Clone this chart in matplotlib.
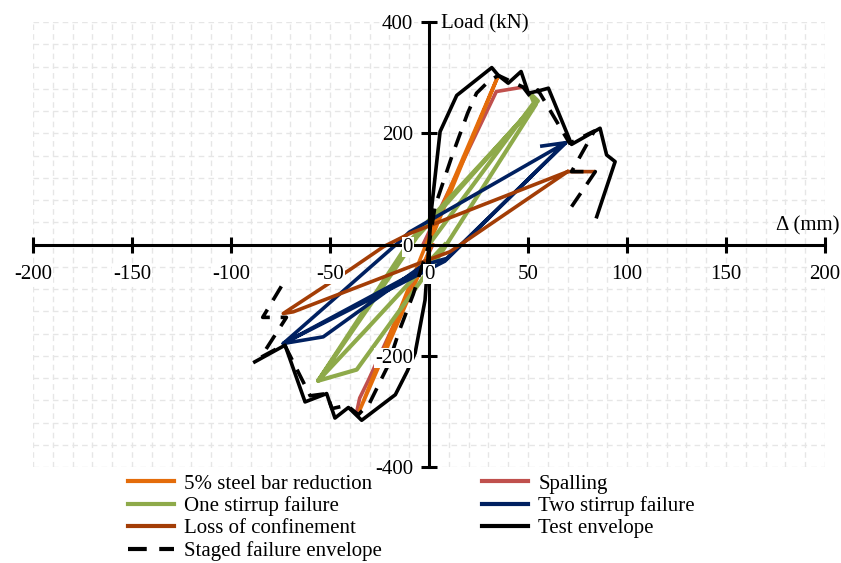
import matplotlib
matplotlib.use("Agg")
import matplotlib.pyplot as plt

# Damage-state hysteresis paths (displacement in mm, load in kN)
steel_x = [0, 35, -1.5, -35, 1.5]
steel_y = [0, 304, 0, -298, 0]

spall_x = [47.5, 34, -3, 2, -19, -30.6, -35, -36.5]
spall_y = [283, 275, 0, 0, -154, -244, -276, -301]

stir1_x = [0, 53, 51, 55, -6, -56, -36.5, 6, 54, -10, -56, -32, 8]
stir1_y = [0, 255, 272, 258, 14, -245, -225, -16, 252, 5, -245, -154, 0]

stir2_x = [57, 69, -10, -15, -73.6, -53.4, -3, 9, 69, 8, -73.6, -3]
stir2_y = [177, 183, 22, 5, -178, -166, -37, -25, 183, -30, -178, -43]

conf_x = [83, 70, -9.6, -23, -39, -73.6, -68.5, -3, 10.6, 70]
conf_y = [131, 131, 20, -4, -43, -124, -121, -31, -13, 131]

# test envelope
test_x = [84.7, 94, 89.7, 86.4, 72, 60.3, 55.2, 50.2, 46.5, 40, 35, 31.7, 14, 5.6, 1.4, 0,
          -2, -7, -11, -17, -34, -40.7, -47.5, -51.7, -62.6, -72.7, -88]
test_y = [50, 149, 161, 209, 180, 281, 276, 272, 311, 290, 304, 318, 268, 203, 68, 0,
          -100, -195, -228, -270, -316, -293, -312, -268, -283, -181, -211]

# staged failure envelope
stage_x = [72, 84, 72, 83.5, 71, 55, 52, 47.5, 35, 30, 24, 19.5, 11.5, 3, 0,
           -8, -15, -21, -30, -35.7, -41.5, -49, -51.7, -60, -73, -85, -72, -84, -72]
stage_y = [68, 131, 131, 204, 182, 278, 262, 283, 304, 293, 272, 236, 158, 68, 0,
           -90, -155, -220, -285, -306, -289, -295, -268, -272, -180, -203, -131, -131, -60]

x_ticks = list(range(-200, 201, 50))
y_ticks = list(range(-400, 401, 200))

plt.rcParams['font.family'] = ['Liberation Serif', 'DejaVu Serif']
plt.rcParams['font.size'] = 15
plt.rcParams['axes.unicode_minus'] = False

fig = plt.figure(figsize=(8.41, 5.63), dpi=100)
ax = fig.add_axes([33 / 841, 1 - 467 / 563, 792 / 841, 445 / 563])

# light dashed grid behind everything
for gx in range(-200, 201, 10):
    ax.axvline(gx, color='#e6e6e6', lw=1, ls=(0, (4, 3)), zorder=0)
for gy in range(-400, 401, 40):
    ax.axhline(gy, color='#e6e6e6', lw=1, ls=(0, (4, 3)), zorder=0)

lw = 2.6
l_spall, = ax.plot(spall_x, spall_y, color='#C0504D', lw=lw, label='Spalling')
l_steel, = ax.plot(steel_x, steel_y, color='#E46C0A', lw=lw, label='5% steel bar reduction')
l_stir1, = ax.plot(stir1_x, stir1_y, color='#8EAA4A', lw=lw + 0.4, label='One stirrup failure')
l_stir2, = ax.plot(stir2_x, stir2_y, color='#002060', lw=lw, label='Two stirrup failure')
l_conf, = ax.plot(conf_x, conf_y, color='#A33D06', lw=lw, label='Loss of confinement')
l_test, = ax.plot(test_x, test_y, color='black', lw=lw, label='Test envelope')
l_stage, = ax.plot(stage_x, stage_y, color='black', lw=lw, ls=(0, (4.5, 3)),
                   label='Staged failure envelope')

ax.set_xlim(-200, 200)
ax.set_ylim(-400, 400)
ax.set_axisbelow(False)

for side in ['top', 'right']:
    ax.spines[side].set_visible(False)
ax.spines['left'].set_position('zero')
ax.spines['bottom'].set_position('zero')
for side in ['left', 'bottom']:
    ax.spines[side].set_linewidth(2.2)

ax.set_xticks(x_ticks)
ax.set_yticks(y_ticks)
ax.set_xticklabels([str(v) for v in x_ticks])
ax.set_yticklabels([str(v) for v in y_ticks])
ax.tick_params(which='major', direction='inout', length=11, width=2.2, labelsize=15)
ax.tick_params(axis='x', pad=9)
ax.tick_params(axis='y', pad=6)

for t in ax.xaxis.get_major_ticks() + ax.yaxis.get_major_ticks():
    t.label1.set_bbox(dict(facecolor='white', edgecolor='none', pad=0.5))

ax.text(6, 397, 'Load (kN)', ha='left', va='center')
ax.text(175, 33, 'Δ (mm)', ha='left', va='center')

handles = [l_steel, l_stir1, l_conf, l_stage, l_spall, l_stir2, l_test]
leg = fig.legend(handles, [h.get_label() for h in handles], ncol=2, loc='upper left',
                 bbox_to_anchor=(128 / 841, 1 - 474 / 563), frameon=False,
                 handlelength=2.2, handletextpad=0.5, columnspacing=4.8,
                 labelspacing=0.13, borderpad=0, borderaxespad=0)
for h in leg.get_lines():
    h.set_linewidth(3)

fig.savefig('out.png', dpi=100)
